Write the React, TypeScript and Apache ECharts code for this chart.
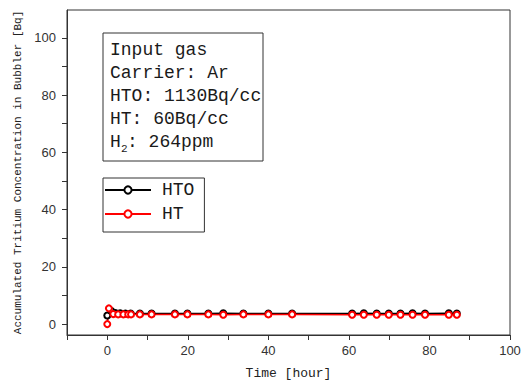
import React, { useEffect, useRef } from "react";
import * as echarts from "echarts";

const htHours = [0, 0.4, 1.5, 2.7, 4.0, 5.2, 5.9, 8.1, 11.0, 16.8, 19.9, 25.1, 28.8, 33.8, 40.0, 45.9, 60.8, 63.7, 66.9, 69.9, 72.8, 75.8, 78.9, 84.8, 86.8];
const htValues = [0, 5.5, 3.5, 3.4, 3.4, 3.4, 3.4, 3.4, 3.4, 3.4, 3.4, 3.4, 3.3, 3.4, 3.4, 3.4, 3.3, 3.3, 3.3, 3.3, 3.3, 3.3, 3.3, 3.3, 3.3];
const htoHours = [0, 1.0, 2.0, 3.2, 4.5, 5.8, 8.1, 11.0, 16.8, 19.9, 25.1, 28.8, 33.8, 40.0, 45.9, 60.8, 63.7, 66.9, 69.9, 72.8, 75.8, 78.9, 84.8, 86.8];
const htoValues = [3.0, 4.6, 3.9, 3.8, 3.7, 3.7, 3.7, 3.7, 3.7, 3.7, 3.7, 3.8, 3.7, 3.7, 3.7, 3.7, 3.8, 3.7, 3.7, 3.7, 3.8, 3.7, 3.8, 3.7];
const xTicks = [-10, 0, 10, 20, 30, 40, 50, 60, 70, 80, 90, 100];
const xLabels = [0, 20, 40, 60, 80, 100];
const yTicks = [0, 10, 20, 30, 40, 50, 60, 70, 80, 90, 100];
const yLabels = [0, 20, 40, 60, 80, 100];
const infoLines = ["Input gas", "Carrier: Ar", "HTO: 1130Bq/cc", "HT: 60Bq/cc"];

const MONO = "Liberation Mono";

export default function App() {
  const ref = useRef<HTMLDivElement>(null);
  useEffect(() => {
    if (!ref.current) return;
    const chart = echarts.init(ref.current, null, { renderer: "svg" });
    const axisColor = "#333";
    const infoTexts: any[] = infoLines.map((t, i) => ({
      type: "text",
      left: 110,
      top: 41 + i * 23,
      style: { text: t, fontFamily: MONO, fontSize: 18, fill: "#1a1a1a" },
    }));
    infoTexts.push(
      { type: "text", left: 110, top: 41 + 4 * 23, style: { text: "H", fontFamily: MONO, fontSize: 18, fill: "#1a1a1a" } },
      { type: "text", left: 121, top: 41 + 4 * 23 + 10, style: { text: "2", fontFamily: MONO, fontSize: 11, fill: "#1a1a1a" } },
      { type: "text", left: 127, top: 41 + 4 * 23, style: { text: ": 264ppm", fontFamily: MONO, fontSize: 18, fill: "#1a1a1a" } }
    );
    chart.setOption({
      animation: false,
      backgroundColor: "#fff",
      grid: { left: 67, right: 15, top: 10, bottom: 48, show: true, borderColor: axisColor, borderWidth: 1 },
      xAxis: {
        type: "value",
        min: -10,
        max: 100,
        splitLine: { show: false },
        axisLine: { onZero: false, lineStyle: { color: axisColor, width: 1 } },
        axisTick: { customValues: xTicks, length: 5, lineStyle: { color: axisColor } },
        axisLabel: { customValues: xLabels, fontSize: 13, color: "#333", margin: 9, fontFamily: "Liberation Sans" },
        name: "Time [hour]",
        nameLocation: "middle",
        nameGap: 32,
        nameTextStyle: { fontFamily: MONO, fontSize: 13, color: "#222" },
      },
      yAxis: {
        type: "value",
        min: -3.8,
        max: 109.7,
        splitLine: { show: false },
        axisLine: { onZero: false, lineStyle: { color: axisColor, width: 1 } },
        axisTick: { customValues: yTicks, length: 5, lineStyle: { color: axisColor } },
        axisLabel: { customValues: yLabels, fontSize: 13, color: "#333", margin: 11, fontFamily: "Liberation Sans" },
        name: "Accumulated Tritium Concentration in Bubbler [Bq]",
        nameLocation: "middle",
        nameGap: 41,
        nameTextStyle: { fontFamily: MONO, fontSize: 11, color: "#222" },
      },
      legend: {
        orient: "vertical",
        left: 103,
        top: 178,
        data: ["HTO", "HT"],
        itemWidth: 46,
        itemHeight: 9,
        itemGap: 4,
        padding: [2, 10, 8, 1],
        borderColor: "#333",
        borderWidth: 1,
        backgroundColor: "#fff",
        textStyle: { fontFamily: MONO, fontSize: 18, color: "#1a1a1a", lineHeight: 20, padding: [0, 0, 0, 6] },
      },
      graphic: [
        {
          type: "rect",
          shape: { x: 103, y: 33, width: 160, height: 128 },
          style: { fill: "#fff", stroke: "#333", lineWidth: 1 },
          z: 10,
        },
        ...infoTexts.map((t) => ({ ...t, z: 11 })),
      ],
      series: [
        {
          name: "HTO",
          type: "line",
          data: htoHours.map((h, i) => [h, htoValues[i]]),
          symbol: "emptyCircle",
          symbolSize: 6,
          lineStyle: { color: "#000", width: 1.5 },
          itemStyle: { color: "#000", borderWidth: 0.8 },
        },
        {
          name: "HT",
          type: "line",
          data: htHours.map((h, i) => [h, htValues[i]]),
          symbol: "emptyCircle",
          symbolSize: 6,
          lineStyle: { color: "#ff0000", width: 1.5 },
          itemStyle: { color: "#ff0000", borderWidth: 0.8 },
        },
      ],
    });
    return () => chart.dispose();
  }, []);
  return <div ref={ref} style={{ width: 525, height: 385, position: "fixed", left: 0, top: 0 }} />;
}
